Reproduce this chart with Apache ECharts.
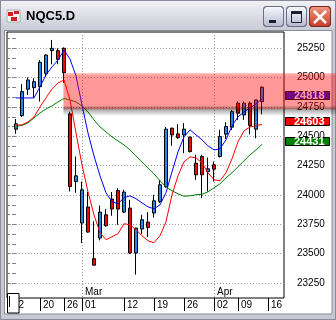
<!DOCTYPE html>
<html><head><meta charset="utf-8">
<script src="https://cdn.jsdelivr.net/npm/echarts@6/dist/echarts.min.js"></script>
<style>html,body{margin:0;padding:0;background:#fff}#c{width:336px;height:320px}</style>
</head><body><div id="c"></div>
<script>
// ---- data (one value per trading day, index = bar number) ----
const openP  = [24561,24676,24901,24915,24923,25037,25230,25230,25250,24691,24115,23761,23897,23457,23633,23831,23965,24038,23854,23888,23505,23710,23769,23846,23945,24072,24569,24521,24512,24493,24271,24328,24200,24257,24328,24518,24578,24782,24682,24782,24561,24796];
const closeP = [24606,24881,24980,24966,25131,25193,25250,25156,25042,24072,24163,24044,23684,23402,23854,23738,23880,23880,24025,23505,23718,23789,23723,23950,24087,24561,24512,24489,24561,24370,24172,24172,24223,24220,24498,24583,24710,24697,24782,24591,24810,24918];
const lowP   = [24521,24665,24853,24830,24796,25008,25114,25114,24955,24030,24019,23591,23678,23400,23613,23730,23823,23746,23846,23500,23321,23667,23642,23808,23931,24061,24419,24478,24356,24362,24129,23973,24030,24115,24319,24478,24555,24640,24640,24518,24484,24688];
const highP  = [24648,24944,25003,24995,25150,25199,25321,25250,25258,24710,24328,24115,24027,23776,23910,23880,24025,24059,24044,23959,23720,23831,23854,24002,24129,24580,24574,24603,24612,24498,24342,24342,24319,24285,24555,24620,24725,24796,24796,24796,24810,24925];
const maFast = [24827,24827,24827,24827,24921,25023,25091,25150,25235,25159,25014,24767,24529,24333,24163,24019,23942,23925,23976,23993,23968,23933,23899,23882,23916,24019,24197,24367,24495,24555,24512,24470,24419,24384,24393,24470,24589,24665,24708,24742,24776,24818];
const maMid  = [24597,24597,24623,24665,24750,24827,24904,24955,24980,24810,24529,24257,24027,23831,23678,23619,23644,23670,23755,23746,23704,23653,23610,23593,23653,23772,24002,24163,24282,24325,24316,24274,24189,24129,24121,24189,24308,24453,24546,24580,24589,24603];
const maSlow = [24584,24593,24614,24657,24699,24733,24759,24793,24823,24810,24793,24759,24708,24640,24580,24538,24495,24461,24427,24384,24333,24282,24231,24180,24121,24070,24036,24010,23989,23993,24002,24006,24027,24061,24095,24146,24189,24240,24291,24342,24384,24431];

// axis ticks / labels
const xTickIdx    = [-1,4,8,11,18,23,28,33,37,42];
const xTickLabels = ['12','20','26','01','12','19','26','02','09','16'];
const monthIdx    = [11,33];
const monthLabels = ['Mar','Apr'];
const yLabels     = [23250,23500,23750,24000,24250,24500,24750,25000,25250];

// resistance zone and last-value tags
const zoneHigh = 25040, zoneLow = 24730, zoneStartIdx = 7.9;
const shadowTop = 24765, shadowBottom = 24672;
const tagValues = [24818, 24603, 24431];
const tagColors = ['#1010e0', '#ff0000', '#008000'];

const yMin = 23122, yMax = 25389;
const xMin = -1.5, xMax = 44.667;
const minorTicks = [];
for (let v = yLabels[0] - 250/3; v < yMax; v += 250/3) minorTicks.push(v);

const candleData = openP.map((o,i)=>[i, o, closeP[i], lowP[i], highP[i]]);
const toLine = arr => arr.map((v,i)=>[i,v]);
const FONT = 'Liberation Sans';
const LG = echarts.graphic.LinearGradient;

const chart = echarts.init(document.getElementById('c'), null, {renderer:'canvas'});

const chrome = [
  // title bar
  {type:'rect', z:0, shape:{x:0,y:0,width:336,height:30},
   style:{fill:new LG(0,0,0,1,[{offset:0,color:'#f2f2f6'},{offset:0.5,color:'#dedee6'},{offset:1,color:'#cbcbd6'}])}},
  {type:'rect', z:0, shape:{x:0,y:0,width:336,height:1}, style:{fill:'#9a9aaa'}},
  // frame
  {type:'rect', z:0, shape:{x:0,y:30,width:5,height:290}, style:{fill:'#c8c8d2'}},
  {type:'rect', z:0, shape:{x:332,y:30,width:4,height:290}, style:{fill:'#c8c8d2'}},
  {type:'rect', z:0, shape:{x:0,y:314,width:336,height:6}, style:{fill:'#c8c8d2'}},
  {type:'rect', z:0, shape:{x:4.5,y:30.5,width:327.5,height:283.5}, style:{fill:null, stroke:'#8a8a98', lineWidth:1}},
  {type:'rect', z:0, shape:{x:0.5,y:0.5,width:335,height:319}, style:{fill:null, stroke:'#8a8a9a', lineWidth:1}},
  // icon
  {type:'rect', z:0, shape:{x:7,y:10,width:13,height:12}, style:{fill:'#f4f4f4', stroke:'#b0b0b0'}},
  {type:'rect', z:0, shape:{x:8,y:12,width:5,height:4}, style:{fill:'#d02020'}},
  {type:'rect', z:0, shape:{x:14,y:11,width:5,height:3}, style:{fill:'#d02020'}},
  {type:'rect', z:0, shape:{x:11,y:17,width:6,height:4}, style:{fill:'#d02020'}},
  // title
  {type:'text', z:1, x:26, y:16, style:{text:'NQC5.D', fill:'#000', font:'bold 13px "Liberation Sans"', verticalAlign:'middle'}},
  // buttons
  {type:'rect', z:0, shape:{x:263.5,y:6.5,width:20,height:20,r:3},
   style:{fill:new LG(0,0,0,1,[{offset:0,color:'#fafafe'},{offset:1,color:'#b4b8cc'}]), stroke:'#6a6e88'}},
  {type:'rect', z:1, shape:{x:269,y:20,width:7,height:3}, style:{fill:'#1c2030'}},
  {type:'rect', z:0, shape:{x:286.5,y:6.5,width:20,height:20,r:3},
   style:{fill:new LG(0,0,0,1,[{offset:0,color:'#fafafe'},{offset:1,color:'#b4b8cc'}]), stroke:'#6a6e88'}},
  {type:'rect', z:1, shape:{x:291.5,y:11.5,width:10,height:11}, style:{fill:null, stroke:'#1c2030', lineWidth:1}},
  {type:'rect', z:1, shape:{x:291,y:11,width:11,height:3}, style:{fill:'#1c2030'}},
  {type:'rect', z:0, shape:{x:309.5,y:6.5,width:21,height:20,r:3},
   style:{fill:new LG(0,0,0,1,[{offset:0,color:'#f09a84'},{offset:1,color:'#c83a24'}]), stroke:'#7a2a20'}},
  {type:'line', z:1, shape:{x1:314,y1:11,x2:326,y2:23}, style:{stroke:'#fff', lineWidth:2.5}},
  {type:'line', z:1, shape:{x1:326,y1:11,x2:314,y2:23}, style:{stroke:'#fff', lineWidth:2.5}},
  // bottom-left small box
  {type:'rect', z:6, shape:{x:7.5,y:293.5,width:11.5,height:19.5}, style:{fill:'#fff', stroke:'#000', lineWidth:1}},
  {type:'line', z:7, shape:{x1:9.5,y1:296,x2:9.5,y2:307}, style:{stroke:'#000', lineWidth:1}}
];

chart.setOption({
  animation:false,
  backgroundColor:'#ffffff',
  grid:{left:7, top:32, width:277, height:266, show:true, borderColor:'#000', borderWidth:1, backgroundColor:'transparent'},
  xAxis:[
    {type:'value', min:xMin, max:xMax, position:'bottom',
     axisLine:{show:false}, splitLine:{show:false},
     axisTick:{show:true, length:13, customValues:xTickIdx, lineStyle:{color:'#000'}},
     axisLabel:{customValues:xTickIdx, formatter:v=>xTickLabels[xTickIdx.indexOf(v)], align:'left', padding:[0,0,0,3], margin:2, color:'#000', fontSize:10, fontFamily:FONT}},
    {type:'value', min:xMin, max:xMax, position:'bottom',
     axisLine:{show:false},
     axisTick:{show:false, customValues:monthIdx},
     splitLine:{show:true, lineStyle:{color:'#9a9a9a', type:[1,2], width:1}},
     axisLabel:{customValues:monthIdx, inside:true, formatter:v=>monthLabels[monthIdx.indexOf(v)], align:'left', padding:[0,0,0,3], margin:1, color:'#000', fontSize:10, fontFamily:FONT}}
  ],
  yAxis:[
    {type:'value', position:'right', min:yMin, max:yMax,
     axisLine:{show:false},
     axisTick:{show:false, customValues:yLabels},
     splitLine:{show:true, lineStyle:{color:'#9a9a9a', type:[1,2], width:1}},
     axisLabel:{customValues:yLabels, formatter:v=>String(v), margin:13, color:'#000', fontSize:10, fontFamily:FONT}},
    {type:'value', position:'right', min:yMin, max:yMax,
     axisLine:{show:false}, axisLabel:{show:false}, splitLine:{show:false},
     axisTick:{show:true, inside:true, length:4, customValues:minorTicks, lineStyle:{color:'#808080'}}},
    {type:'value', position:'left', min:yMin, max:yMax,
     axisLine:{show:false}, axisLabel:{show:false}, splitLine:{show:false},
     axisTick:{show:true, inside:true, length:3, customValues:minorTicks, lineStyle:{color:'#808080'}}}
  ],
  series:[
    {type:'candlestick', xAxisIndex:0, yAxisIndex:0, data:candleData, barWidth:3,
     itemStyle:{color:'#1e88f0', color0:'#ff0000', borderColor:'#000', borderColor0:'#000', borderWidth:1},
     markArea:{silent:true, z:10, label:{show:false},
       data:[
         [{xAxis:zoneStartIdx, yAxis:zoneHigh,
           itemStyle:{color:new LG(0,0,0,1,[{offset:0,color:'rgba(255,0,0,0.22)'},{offset:0.08,color:'rgba(255,0,0,0.4)'},{offset:1,color:'rgba(255,0,0,0.4)'}])}},
          {x:'100%', yAxis:zoneLow}],
         [{xAxis:zoneStartIdx, yAxis:shadowTop,
           itemStyle:{color:new LG(0,0,0,1,[{offset:0,color:'rgba(0,0,0,0)'},{offset:0.35,color:'rgba(0,0,0,0.36)'},{offset:1,color:'rgba(0,0,0,0)'}])}},
          {x:'100%', yAxis:shadowBottom}]
       ]}},
    {type:'line', xAxisIndex:0, yAxisIndex:0, data:toLine(maSlow), showSymbol:false, symbol:'none', lineStyle:{color:'#008000', width:1}},
    {type:'line', xAxisIndex:0, yAxisIndex:0, data:toLine(maMid), showSymbol:false, symbol:'none', lineStyle:{color:'#ff0000', width:1}},
    {type:'line', xAxisIndex:0, yAxisIndex:0, data:toLine(maFast), showSymbol:false, symbol:'none', lineStyle:{color:'#0000ff', width:1}}
  ],
  graphic: chrome
});

// last-value tags on the price axis, positioned through the y scale
const tags = [];
tagValues.forEach((v,i)=>{
  const py = Math.round(chart.convertToPixel({yAxisIndex:0}, v) - 2.5);
  tags.push({type:'rect', z:5, shape:{x:285.5, y:py-4.5, width:44, height:8}, style:{fill:tagColors[i], stroke:'#000', lineWidth:1}});
  tags.push({type:'text', z:5, x:294, y:py, style:{text:String(v), fill:'#fff', font:'bold 11px "Liberation Sans"', verticalAlign:'middle'}});
});
chart.setOption({graphic: chrome.concat(tags)});
</script>
</body></html>
